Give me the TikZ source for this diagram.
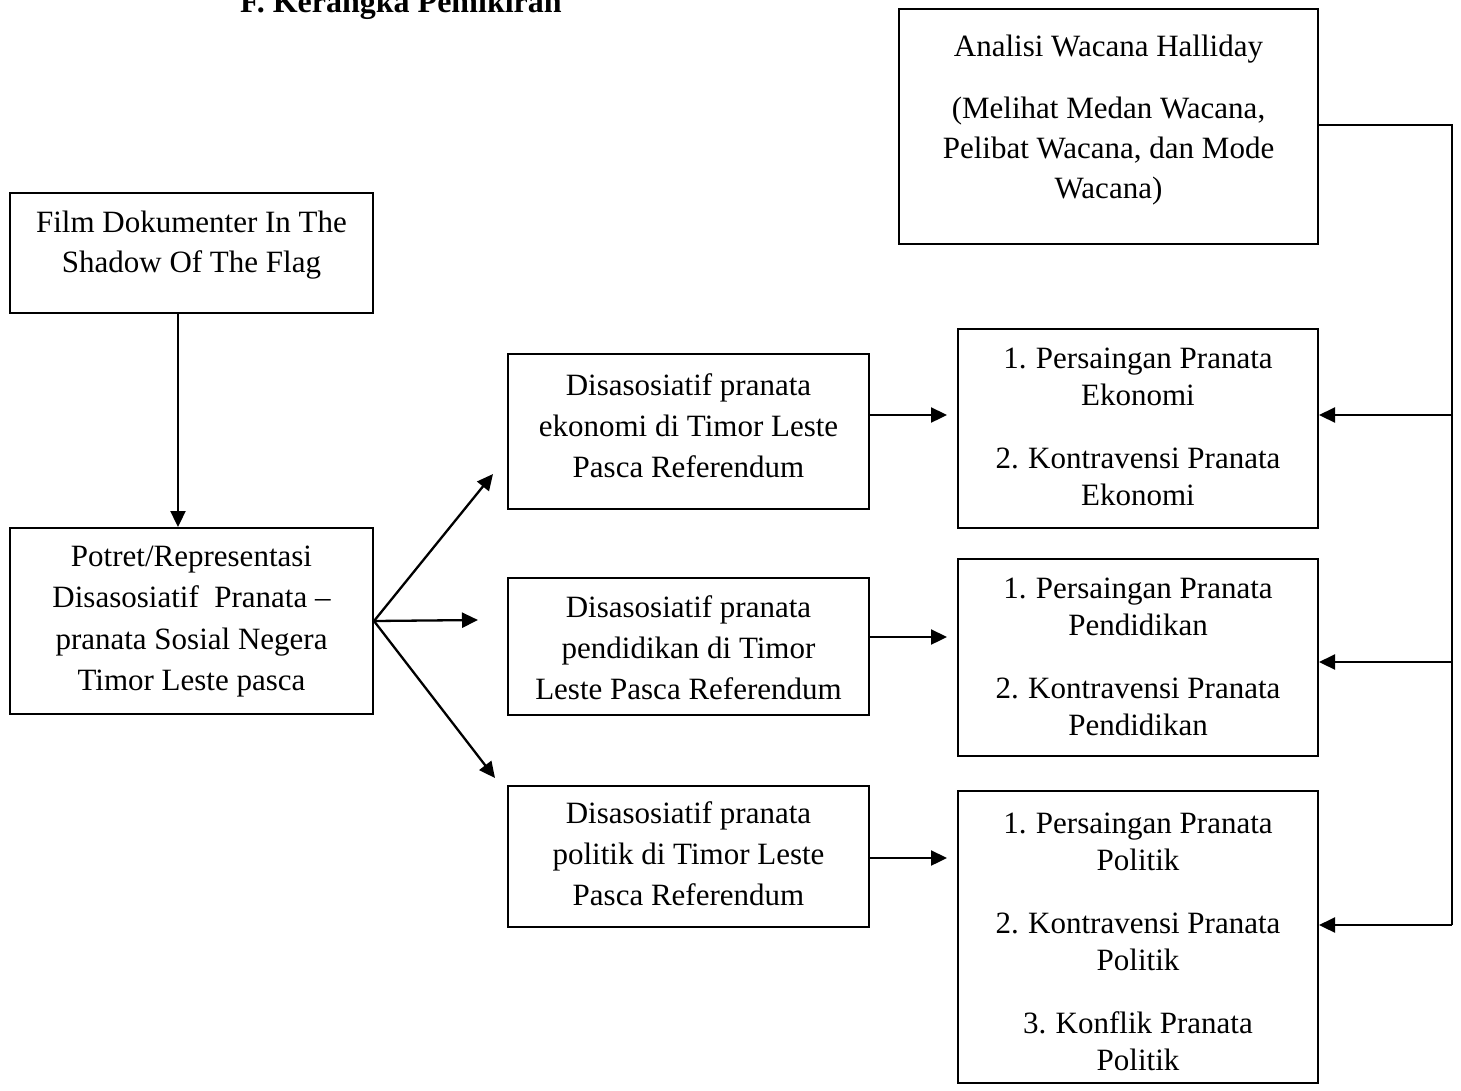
\documentclass[tikz,border=0pt]{standalone}
\usepackage{fontspec}
\setmainfont{Liberation Serif}
\usetikzlibrary{arrows.meta,calc}
\newcommand{\nsp}{\hspace{0.3em}}
\begin{document}
\begin{tikzpicture}[x=1pt,y=-1pt,
  box/.style={draw,line width=2pt,inner sep=0pt,anchor=north west},
  txt/.style={anchor=north,align=center,inner sep=0pt,font=\fontsize{31}{40}\selectfont},
  arr/.style={line width=2.3pt,-{Triangle[length=16pt,width=15pt]}},
  ln/.style={line width=2.3pt}]
\useasboundingbox (0,0) rectangle (1461,1090);
% title
\node[font=\fontsize{32}{40}\selectfont\bfseries,anchor=base west,inner sep=0pt] (title) at (240,12) {F. Kerangka Pemikiran};
% boxes
\node[box,minimum width=419pt,minimum height=235pt] (top) at (898,8) {};
\node[box,minimum width=363pt,minimum height=120pt] (film) at (9,192) {};
\node[box,minimum width=363pt,minimum height=186pt] (pot) at (9,527) {};
\node[box,minimum width=361pt,minimum height=155pt] (m1) at (507,353) {};
\node[box,minimum width=361pt,minimum height=137pt] (m2) at (507,577) {};
\node[box,minimum width=361pt,minimum height=141pt] (m3) at (507,785) {};
\node[box,minimum width=360pt,minimum height=199pt] (r1) at (957,328) {};
\node[box,minimum width=360pt,minimum height=197pt] (r2) at (957,558) {};
\node[box,minimum width=360pt,minimum height=292pt] (r3) at (957,790) {};
% texts
\node[txt] (topT) at (top.north |- 0,28) {\strut Analisi Wacana Halliday\\[22pt](Melihat Medan Wacana,\\Pelibat Wacana, dan Mode\\Wacana)};
\node[txt] (filmT) at (film.north |- 0,204) {\strut Film Dokumenter In The\\Shadow Of The Flag};
\node[txt,font=\fontsize{31}{41.5}\selectfont] (potT) at (pot.north |- 0,537) {\strut Potret/Representasi\\Disasosiatif\ \ Pranata –\\pranata Sosial Negera\\Timor Leste pasca};
\node[txt,font=\fontsize{31}{41}\selectfont] (m1T) at (m1.north |- 0,367) {\strut Disasosiatif pranata\\ekonomi di Timor Leste\\Pasca Referendum};
\node[txt,font=\fontsize{31}{41}\selectfont] (m2T) at (m2.north |- 0,589) {\strut Disasosiatif pranata\\pendidikan di Timor\\Leste Pasca Referendum};
\node[txt,font=\fontsize{31}{41}\selectfont] (m3T) at (m3.north |- 0,795) {\strut Disasosiatif pranata\\politik di Timor Leste\\Pasca Referendum};
\node[txt,font=\fontsize{31}{37}\selectfont] (r1T) at (r1.north |- 0,342) {\strut 1.\nsp Persaingan Pranata\\Ekonomi\\[26pt]2.\nsp Kontravensi Pranata\\Ekonomi};
\node[txt,font=\fontsize{31}{37}\selectfont] (r2T) at (r2.north |- 0,572) {\strut 1.\nsp Persaingan Pranata\\Pendidikan\\[26pt]2.\nsp Kontravensi Pranata\\Pendidikan};
\node[txt,font=\fontsize{31}{37}\selectfont] (r3T) at (r3.north |- 0,807) {\strut 1.\nsp Persaingan Pranata\\Politik\\[26pt]2.\nsp Kontravensi Pranata\\Politik\\[26pt]3.\nsp Konflik Pranata\\Politik};
% connectors
\draw[arr] ([xshift=-13.5pt]film.south) -- ([xshift=-13.5pt]film.south |- pot.north);
\coordinate (t1) at (493,474);
\coordinate (t2) at (478,620);
\coordinate (t3) at (495,778);
\draw[arr] (pot.east) -- (t1);
\draw[arr] (pot.east) -- (t2);
\draw[arr] (pot.east) -- (t3);
\coordinate (a1) at (947,415);
\coordinate (a2) at (947,637);
\coordinate (a3) at (947,858);
\draw[arr] (m1.east |- a1) -- (a1);
\draw[arr] (m2.east |- a2) -- (a2);
\draw[arr] (m3.east |- a3) -- (a3);
\coordinate (rc) at (1452,125);
\coordinate (b1) at (1452,415);
\coordinate (b2) at (1452,662);
\coordinate (b3) at (1452,925);
\draw[ln] (top.east |- rc) -- (rc) -- (b3);
\draw[arr] (b1) -- (b1 -| r1.east);
\draw[arr] (b2) -- (b2 -| r2.east);
\draw[arr] (b3) -- (b3 -| r3.east);
\end{tikzpicture}
\end{document}
